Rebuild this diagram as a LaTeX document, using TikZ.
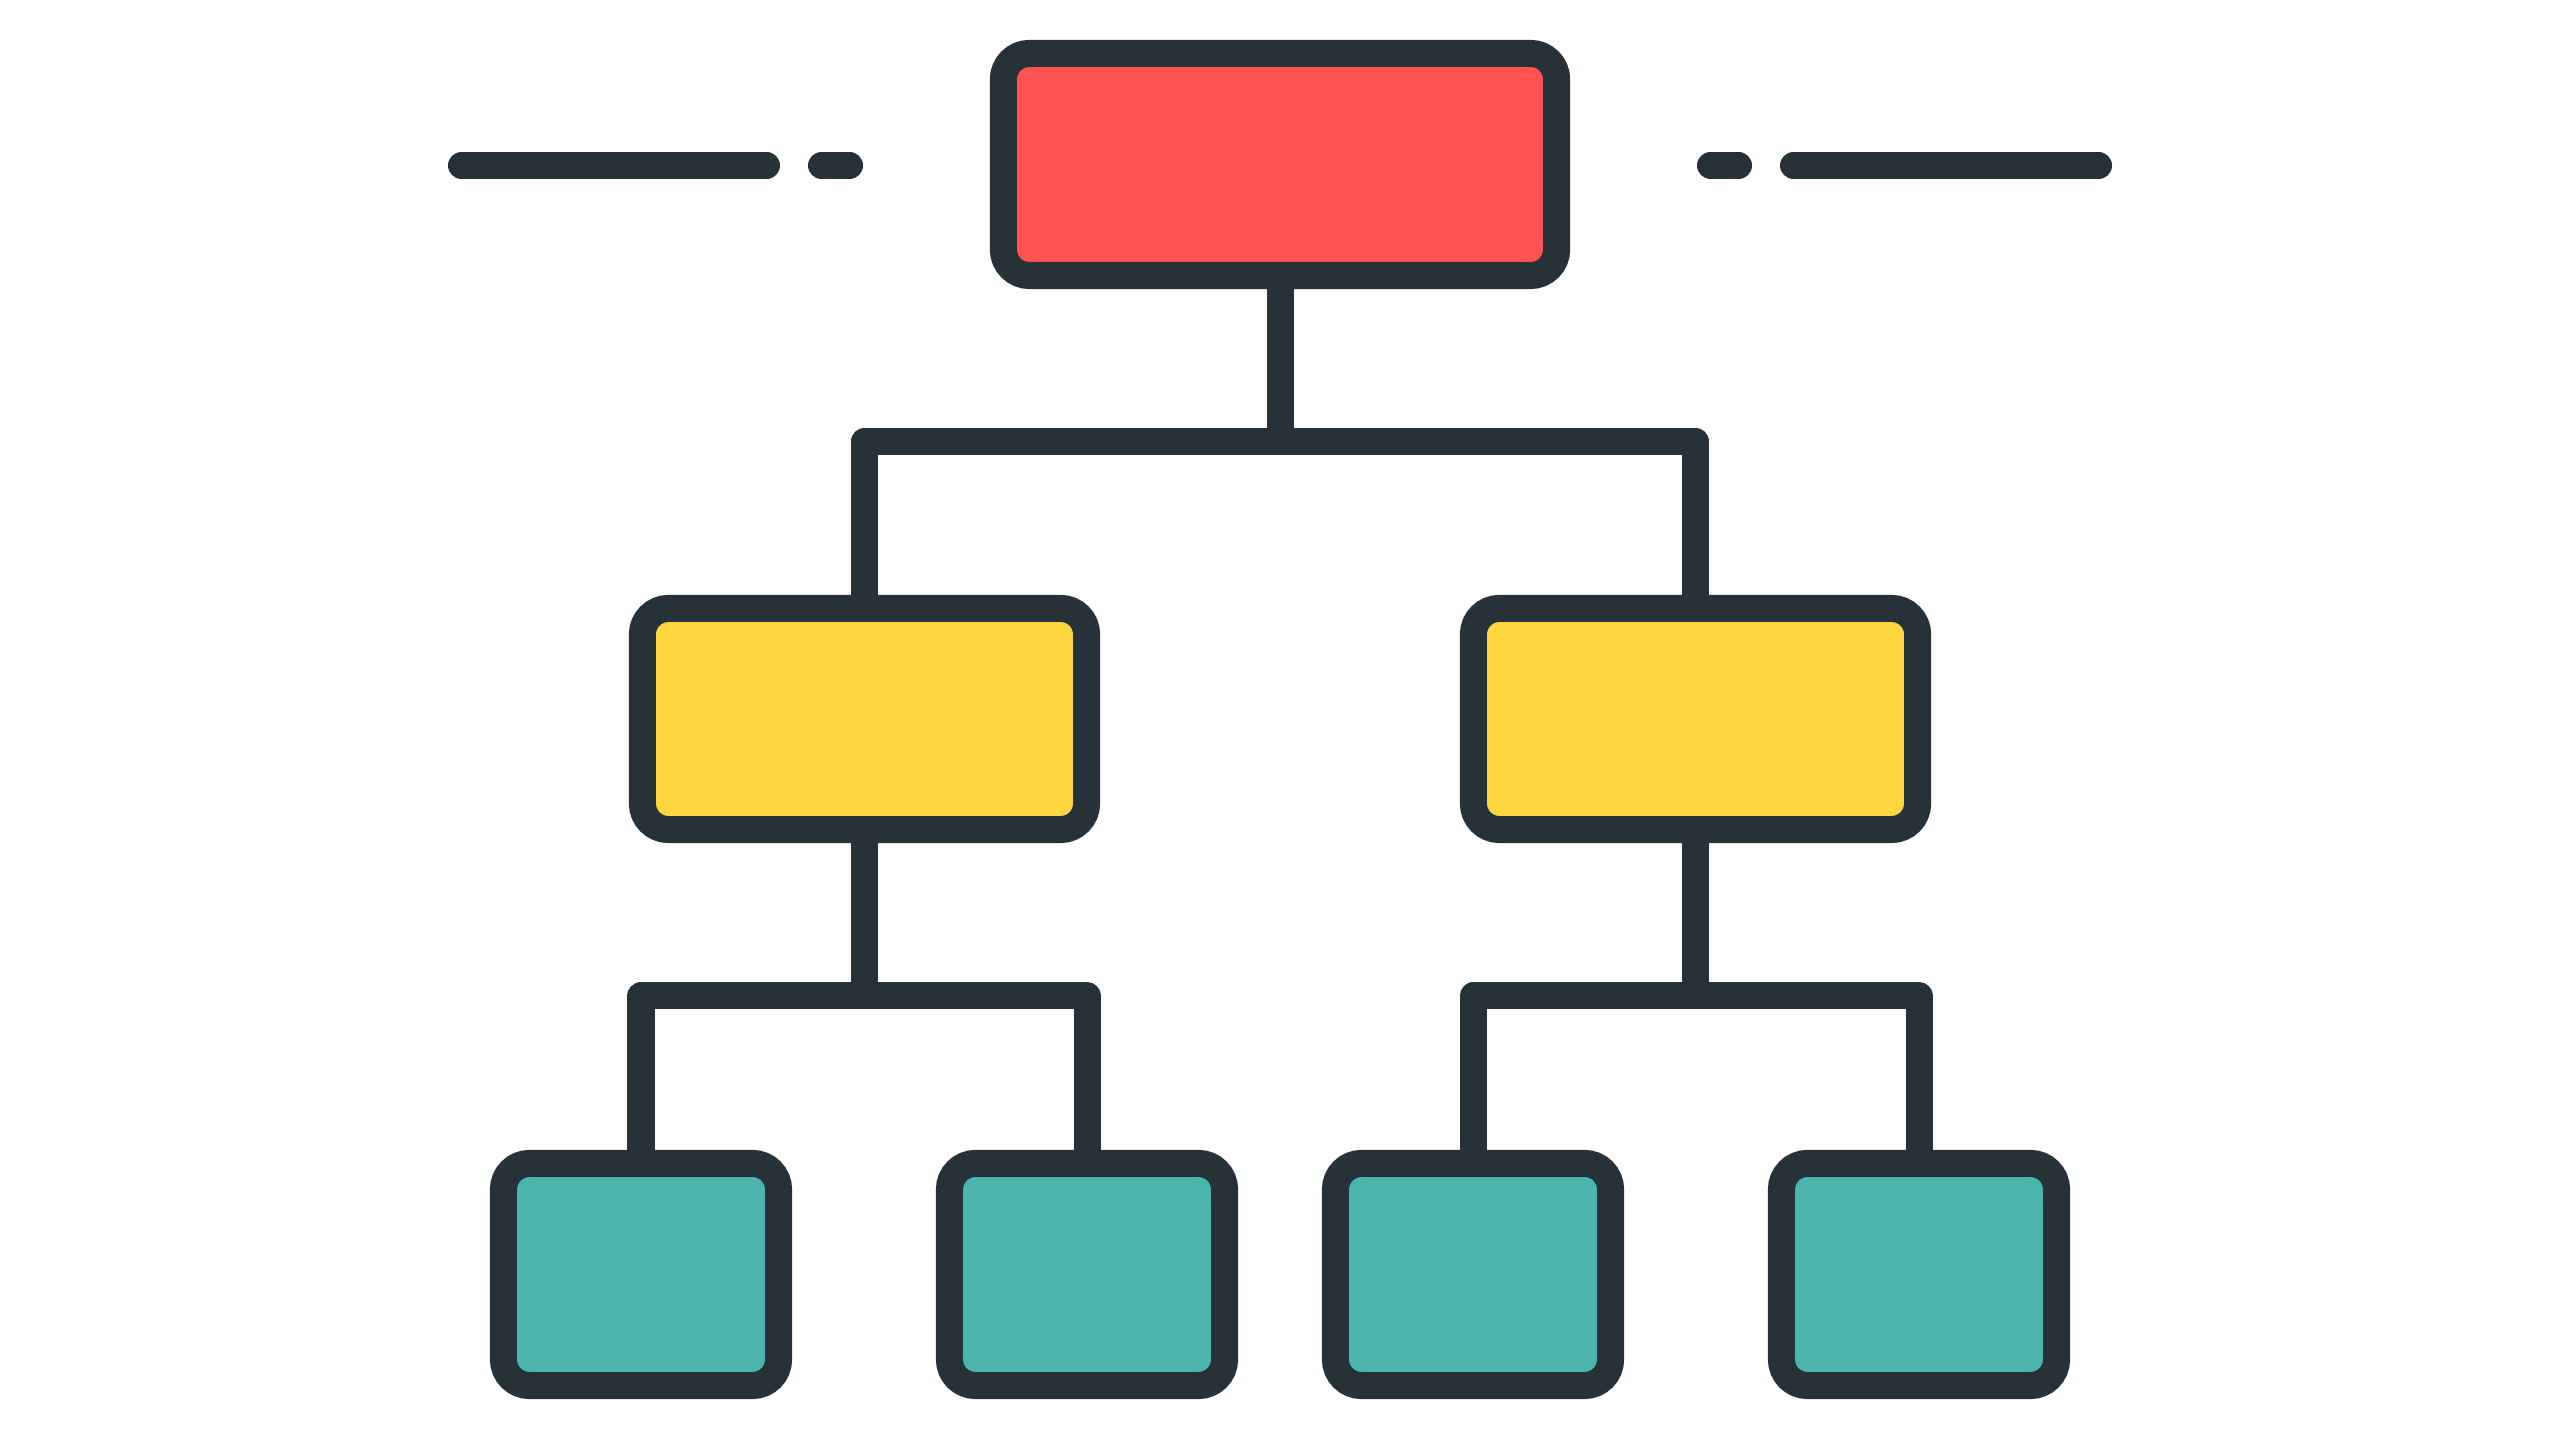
\documentclass[tikz,border=0pt]{standalone}
\usetikzlibrary{backgrounds}
\definecolor{ink}{HTML}{263238}
\definecolor{boxred}{HTML}{FF5252}
\definecolor{boxyellow}{HTML}{FDD63F}
\definecolor{boxteal}{HTML}{4DB6AC}
\tikzset{
  box/.style={draw=ink, line width=0.27cm, rounded corners=0.26cm, inner sep=0pt, outer sep=0pt},
  topbox/.style={box, fill=boxred, minimum width=5.53cm, minimum height=2.22cm},
  midbox/.style={box, fill=boxyellow, minimum width=4.44cm, minimum height=2.21cm},
  leafbox/.style={box, fill=boxteal, minimum width=2.75cm, minimum height=2.22cm},
  link/.style={draw=ink, line width=0.27cm, line join=round},
  dashline/.style={draw=ink, line width=0.27cm, line cap=round}
}
\begin{document}
\begin{tikzpicture}[x=0.01cm, y=0.01cm]
\useasboundingbox (0,0) rectangle (2560,1440);
% boxes (y = 1440 minus reference pixel row)
\node[topbox] (root) at (1280,1275.5) {};
\node[midbox] (yl) at (864.5,721) {};
\node[midbox] (yr) at (1695.5,721) {};
\node[leafbox] (t1) at (641,165.5) {};
\node[leafbox] (t2) at (1087,165.5) {};
\node[leafbox] (t3) at (1473,165.5) {};
\node[leafbox] (t4) at (1919,165.5) {};
% junction points
\coordinate (hubA) at (1280,998.5);
\coordinate (hubL) at (864.5,444);
\coordinate (hubR) at (1695.5,444);
% connectors behind the boxes
\begin{scope}[on background layer]
\draw[link] (root.south) -- (hubA);
\draw[link] (yl.north) |- (hubA) -| (yr.north);
\draw[link] (yl.south) -- (hubL);
\draw[link] (t1.north) |- (hubL) -| (t2.north);
\draw[link] (yr.south) -- (hubR);
\draw[link] (t3.north) |- (hubR) -| (t4.north);
\end{scope}
% side dashes
\coordinate (dL1a) at (461.5,1274.5);
\coordinate (dL1b) at (766.5,1274.5);
\coordinate (dL2a) at (821.5,1274.5);
\coordinate (dL2b) at (849.5,1274.5);
\coordinate (dR1a) at (1710.5,1274.5);
\coordinate (dR1b) at (1738.5,1274.5);
\coordinate (dR2a) at (1793.5,1274.5);
\coordinate (dR2b) at (2098.5,1274.5);
\draw[dashline] (dL1a) -- (dL1b);
\draw[dashline] (dL2a) -- (dL2b);
\draw[dashline] (dR1a) -- (dR1b);
\draw[dashline] (dR2a) -- (dR2b);
\end{tikzpicture}
\end{document}
